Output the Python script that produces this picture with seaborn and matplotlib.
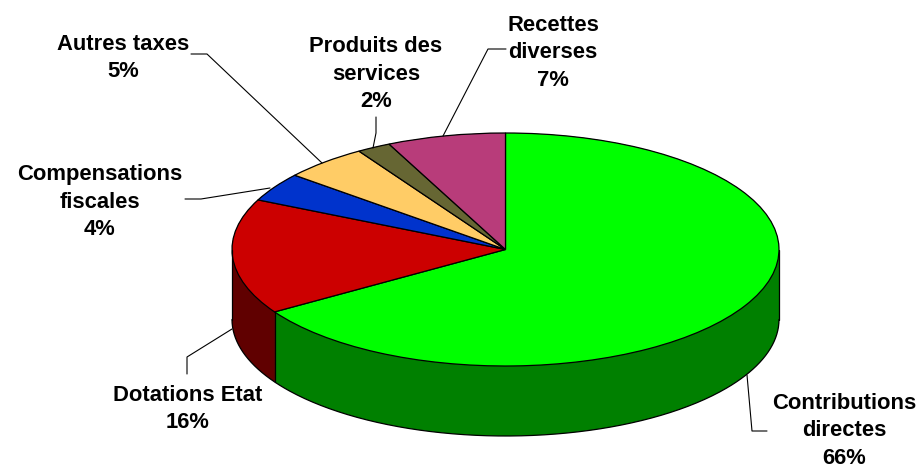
import matplotlib
matplotlib.use("Agg")
import matplotlib.pyplot as plt
import numpy as np
import seaborn as sns

categories = ["Contributions\ndirectes", "Dotations Etat", "Compensations\nfiscales",
              "Autres taxes", "Produits des\nservices", "Recettes\ndiverses"]
shares = [66, 16, 4, 5, 2, 7]
top_colors = ["#00FF00", "#CC0000", "#0033CC", "#FFCC66", "#666633", "#B83C7A"]
side_colors = ["#008000", "#600000", "#001A66", "#806633", "#333319", "#5C1E3D"]

# label centres and leader lines, in image pixels
label_pos = [(844, 431), (188, 409), (100, 202), (123, 58), (376, 74), (553, 53)]
leaders = [
    [(767, 431), (752, 431), (747, 375)],
    [(187, 374), (187, 357), (232, 329)],
    [(185, 199), (201, 199), (270, 188)],
    [(191, 54), (207, 54), (322, 163)],
    [(376, 117), (376, 133), (373, 148)],
    [(506, 49), (488, 49), (443, 136)],
]

WIDTH, HEIGHT = 920, 467
CX, CY = 505.5, 249.5
RX, RY = 273.5, 116.5
DEPTH = 70 / RY

sns.set_theme(style="white")
plt.rcParams["font.family"] = ["Liberation Sans", "DejaVu Sans"]

fig = plt.figure(figsize=(WIDTH / 100, HEIGHT / 100), dpi=100)
ax = fig.add_axes([0, 0, 1, 1])

# side wall: stack of darker pies going up to the top face
for offset in np.linspace(DEPTH, 0, 90):
    ax.pie(shares, colors=sns.color_palette(side_colors), startangle=90, counterclock=False,
           center=(0, -offset), wedgeprops={"edgecolor": "none", "linewidth": 0})

# outline of the wall
theta = np.linspace(np.pi, 2 * np.pi, 300)
ax.plot(np.cos(theta), np.sin(theta) - DEPTH, color="black", lw=0.9)
ax.plot([-1, -1], [0, -DEPTH], color="black", lw=0.9)
ax.plot([1, 1], [0, -DEPTH], color="black", lw=0.9)
boundary = np.deg2rad(90 - 360 * shares[0] / sum(shares))
ax.plot([np.cos(boundary)] * 2, [np.sin(boundary), np.sin(boundary) - DEPTH], color="black", lw=0.9)

ax.pie(shares, colors=sns.color_palette(top_colors), startangle=90, counterclock=False,
       wedgeprops={"edgecolor": "black", "linewidth": 0.9})

ax.set_aspect("auto")
ax.set_xlim(-CX / RX, (WIDTH - CX) / RX)
ax.set_ylim(-(HEIGHT - CY) / RY, CY / RY)
ax.axis("off")

# overlay in pixel coordinates for the labels
overlay = fig.add_axes([0, 0, 1, 1])
overlay.set_xlim(0, WIDTH)
overlay.set_ylim(HEIGHT, 0)
overlay.axis("off")

for name, share, pos, line in zip(categories, shares, label_pos, leaders):
    overlay.text(pos[0], pos[1], f"{name}\n{share}%", ha="center", va="center", fontsize=15.8,
                 fontweight="bold", color="black", linespacing=1.38)
    xs, ys = zip(*line)
    overlay.plot(xs, ys, color="black", lw=0.8)

fig.savefig("out.png", dpi=100)
plt.close(fig)
